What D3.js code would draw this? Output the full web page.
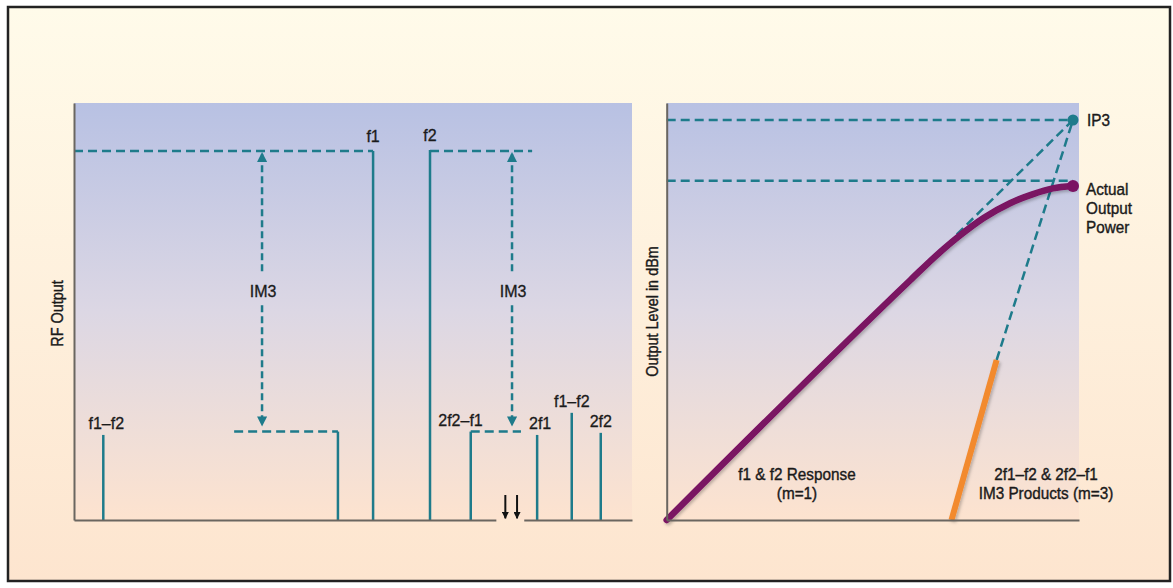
<!DOCTYPE html>
<html><head><meta charset="utf-8">
<script src="https://cdn.jsdelivr.net/npm/d3@7"></script>
<style>
html,body{margin:0;padding:0;background:#fff;}
svg{display:block;}
.lab{font-family:"Liberation Sans",Arial,sans-serif;font-size:16px;fill:#1a1a1a;stroke:#1a1a1a;stroke-width:0.3px;}
.nar{font-family:"Liberation Sans",Arial,sans-serif;fill:#1a1a1a;stroke:#1a1a1a;stroke-width:0.4px;}
</style></head>
<body><svg id="c" width="1173" height="588"></svg>
<script>
// ---------- data (left: spectrum) ----------
const spectrumLabels = ["f1–f2", "", "f1", "f2", "2f2–f1", "2f1", "f1–f2", "2f2"];
const spectrumFreq   = [5.25, 47.3, 53.6, 63.8, 71.1, 83.0, 89.2, 94.4];
const spectrumLevel  = [20.4, 21.2, 88.5, 88.7, 21.2, 20.4, 25.7, 20.9];
const fundamentalLevel = 88.5;
const im3Level = 21.2;
const fundRefSpans = [[0, 53.6], [63.8, 82.1]];
const im3RefSpans  = [[28.7, 47.3], [71.1, 80.1]];
const im3ArrowFreq = [33.7, 78.5];
const axisBreak = [75.6, 80.6];
const breakArrowFreq = [77.3, 79.4];

// ---------- data (right: transfer curves) ----------
const fundIn  = [0, 60, 66, 72, 78, 84.5, 90, 95, 100];
const fundOut = [0, 60, 65.8, 71, 75.5, 79.2, 81.4, 82.9, 83.5];
const im3In  = [70.1, 81.2];
const im3Out = [0, 40];
const ip3 = [100, 100];
const p1dbLevel = 84.8;
const fundExtrapStart = [71.4, 71.4];

// ---------- setup ----------
const svg = d3.select("#c");
const teal = "#1e7b8b", purple = "#7a1262", orange = "#f28a2e", axisCol = "#6a6660";

const defs = svg.append("defs");
const g1 = defs.append("linearGradient").attr("id","bgOuter").attr("x1",0).attr("y1",0).attr("x2",0).attr("y2",1);
g1.append("stop").attr("offset","0%").attr("stop-color","#fffbea");
g1.append("stop").attr("offset","100%").attr("stop-color","#fde5cf");
const g2 = defs.append("linearGradient").attr("id","bgPlot").attr("x1",0).attr("y1",0).attr("x2",0).attr("y2",1);
g2.append("stop").attr("offset","0%").attr("stop-color","#b8c1e3");
g2.append("stop").attr("offset","50%").attr("stop-color","#dcd7e4");
g2.append("stop").attr("offset","100%").attr("stop-color","#fde3cf");
const sh = defs.append("filter").attr("id","shadow").attr("x","-20%").attr("y","-20%").attr("width","140%").attr("height","140%");
sh.append("feDropShadow").attr("dx",1.5).attr("dy",2).attr("stdDeviation",1.5).attr("flood-color","#000").attr("flood-opacity",0.25);
function marker(id, color, w, h){
  defs.append("marker").attr("id",id).attr("viewBox","0 0 10 10").attr("refX",9).attr("refY",5)
    .attr("markerUnits","userSpaceOnUse").attr("markerWidth",w).attr("markerHeight",h).attr("orient","auto")
    .append("path").attr("d","M0,0 L10,5 L0,10 Z").attr("fill",color);
}
marker("arrTeal", teal, 12, 10);
marker("arrBlack", "#111", 9, 7);

// outer frame
svg.append("rect").attr("x",8).attr("y",7).attr("width",1162).attr("height",574)
  .attr("fill","url(#bgOuter)").attr("stroke","#222").attr("stroke-width",2.5);

function narrow(g, txt, x, y, size, anchor, rot){
  const sx = 0.9;
  g.append("text").attr("class","nar").attr("font-size",size)
    .attr("text-anchor",anchor || "start")
    .attr("transform",`translate(${x},${y})${rot?` rotate(${rot})`:""} scale(${sx},1)`)
    .text(txt);
}

// ---------- left panel ----------
const xL = d3.scaleLinear().domain([0,100]).range([74,632]);
const yL = d3.scaleLinear().domain([0,100]).range([520,103]);
svg.append("rect").attr("x",xL(0)).attr("y",yL(100)).attr("width",xL(100)-xL(0)).attr("height",yL(0)-yL(100))
  .attr("fill","url(#bgPlot)");

const gl = svg.append("g");
fundRefSpans.forEach(s => gl.append("line").attr("x1",xL(s[0])).attr("x2",xL(s[1]))
  .attr("y1",yL(fundamentalLevel)).attr("y2",yL(fundamentalLevel))
  .attr("stroke",teal).attr("stroke-width",2.5).attr("stroke-dasharray","9,5"));
im3RefSpans.forEach(s => gl.append("line").attr("x1",xL(s[0])).attr("x2",xL(s[1]))
  .attr("y1",yL(im3Level)).attr("y2",yL(im3Level))
  .attr("stroke",teal).attr("stroke-width",2.5).attr("stroke-dasharray","9,5"));

spectrumFreq.forEach((f,i) => {
  gl.append("line").attr("x1",xL(f)).attr("x2",xL(f)).attr("y1",yL(0)).attr("y2",yL(spectrumLevel[i]))
    .attr("stroke",teal).attr("stroke-width",2.5);
  if (spectrumLabels[i]) {
    const special = spectrumLabels[i] === "2f2–f1";
    gl.append("text").attr("class","lab")
      .attr("x", special ? xL(f)+12 : xL(f)+ (i===0?3:(i===5?3:0)))
      .attr("y", yL(spectrumLevel[i]) - (spectrumLevel[i] > 50 ? 9 : 6))
      .attr("text-anchor", special ? "end" : "middle")
      .text(spectrumLabels[i]);
  }
});

const midLevel = (fundamentalLevel + im3Level)/2;
im3ArrowFreq.forEach(f => {
  const x = xL(f);
  gl.append("line").attr("x1",x).attr("x2",x).attr("y1",yL(midLevel)-20).attr("y2",yL(fundamentalLevel)+2)
    .attr("stroke",teal).attr("stroke-width",2.5).attr("stroke-dasharray","7,4").attr("marker-end","url(#arrTeal)");
  gl.append("line").attr("x1",x).attr("x2",x).attr("y1",yL(midLevel)+14).attr("y2",yL(im3Level)-6)
    .attr("stroke",teal).attr("stroke-width",2.5).attr("stroke-dasharray","7,4").attr("marker-end","url(#arrTeal)");
  gl.append("text").attr("class","lab").attr("x",x+1).attr("y",yL(midLevel)+6).attr("text-anchor","middle").text("IM3");
});

gl.append("g").attr("transform",`translate(${xL(0)},0)`)
  .call(d3.axisLeft(yL).tickValues([]).tickSizeOuter(0))
  .call(a => a.select(".domain").attr("stroke",axisCol).attr("stroke-width",2));
const xLa = xL.copy().domain([0, axisBreak[0]]).range([xL(0), xL(axisBreak[0])]);
const xLb = xL.copy().domain([axisBreak[1], 100]).range([xL(axisBreak[1]), xL(100)]);
[xLa, xLb].forEach(s => gl.append("g").attr("transform",`translate(0,${yL(0)})`)
  .call(d3.axisBottom(s).tickValues([]).tickSizeOuter(0))
  .call(a => a.select(".domain").attr("stroke",axisCol).attr("stroke-width",2)));
breakArrowFreq.forEach(f => gl.append("line").attr("x1",xL(f)).attr("x2",xL(f))
  .attr("y1",yL(6)).attr("y2",yL(0.4)).attr("stroke","#111").attr("stroke-width",2).attr("marker-end","url(#arrBlack)"));

narrow(gl, "RF Output", 63, (yL(0)+yL(100))/2 + 2, 16, "middle", -90);

// ---------- right panel ----------
const xR = d3.scaleLinear().domain([0,100]).range([666.7,1073]);
const yR = d3.scaleLinear().domain([0,100]).range([520,120]);
const xRmax = xR.invert(1079), yRmax = yR.invert(103);
svg.append("rect").attr("x",xR(0)).attr("y",yR(yRmax)).attr("width",xR(xRmax)-xR(0)).attr("height",yR(0)-yR(yRmax))
  .attr("fill","url(#bgPlot)");
const gr = svg.append("g");

[ip3[1], p1dbLevel].forEach(v => gr.append("line").attr("x1",xR(0)).attr("x2",xR(ip3[0]))
  .attr("y1",yR(v)).attr("y2",yR(v)).attr("stroke",teal).attr("stroke-width",2.5).attr("stroke-dasharray","9,5"));
const line = d3.line().x(d=>xR(d[0])).y(d=>yR(d[1]));
gr.append("path").attr("d", line([fundExtrapStart, ip3])).attr("fill","none")
  .attr("stroke",teal).attr("stroke-width",2.5).attr("stroke-dasharray","9,5");
gr.append("path").attr("d", line([[im3In[1], im3Out[1]], ip3])).attr("fill","none")
  .attr("stroke",teal).attr("stroke-width",2.5).attr("stroke-dasharray","9,5");

const fundPts = fundIn.map((v,i)=>[v, fundOut[i]]);
gr.append("path").attr("d", d3.line().x(d=>xR(d[0])).y(d=>yR(d[1])).curve(d3.curveMonotoneX)(fundPts))
  .attr("fill","none").attr("stroke",purple).attr("stroke-width",6.5).attr("stroke-linecap","round").attr("filter","url(#shadow)");
gr.append("circle").attr("cx",xR(fundIn[fundIn.length-1])).attr("cy",yR(fundOut[fundOut.length-1])).attr("r",6).attr("fill",purple);
const im3Pts = im3In.map((v,i)=>[v, im3Out[i]]);
gr.append("path").attr("d", line(im3Pts)).attr("fill","none").attr("stroke",orange).attr("stroke-width",6)
  .attr("filter","url(#shadow)");
gr.append("circle").attr("cx",xR(ip3[0])).attr("cy",yR(ip3[1])).attr("r",5.5).attr("fill",teal);

gr.append("g").attr("transform",`translate(${xR(0)},0)`)
  .call(d3.axisLeft(yR.copy().domain([0,yRmax]).range([yR(0),yR(yRmax)])).tickValues([]).tickSizeOuter(0))
  .call(a => a.select(".domain").attr("stroke",axisCol).attr("stroke-width",2));
gr.append("g").attr("transform",`translate(0,${yR(0)})`)
  .call(d3.axisBottom(xR.copy().domain([0,xRmax]).range([xR(0),xR(xRmax)])).tickValues([]).tickSizeOuter(0))
  .call(a => a.select(".domain").attr("stroke",axisCol).attr("stroke-width",2));

narrow(gr, "Output Level in dBm", 658, (yR(0)+yR(yRmax))/2, 16, "middle", -90);
narrow(gr, "IP3", 1087, yR(ip3[1])+6, 17);
["Actual","Output","Power"].forEach((t,i)=> narrow(gr, t, 1086, yR(fundOut[fundOut.length-1])+9+i*19, 17));
narrow(gr, "f1 & f2 Response", 797, 480, 17, "middle");
narrow(gr, "(m=1)", 797, 499, 17, "middle");
narrow(gr, "2f1–f2 & 2f2–f1", 1046, 480, 17, "middle");
narrow(gr, "IM3 Products (m=3)", 1046, 499, 17, "middle");
</script></body></html>
